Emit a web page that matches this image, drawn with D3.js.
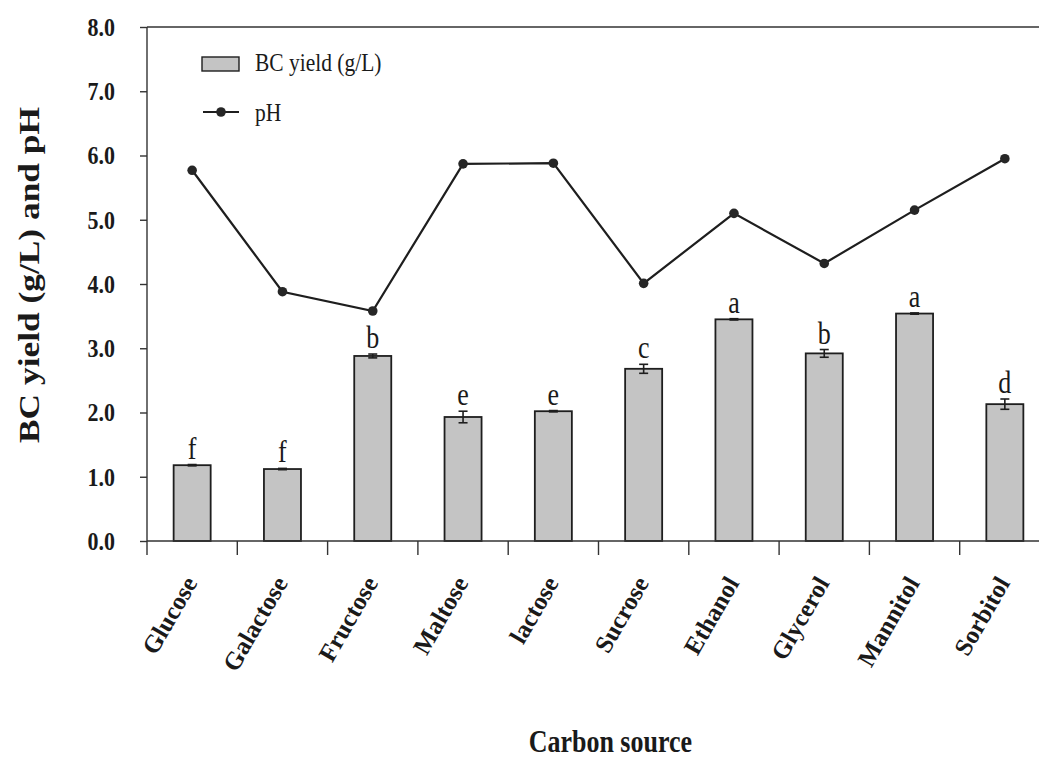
<!DOCTYPE html>
<html>
<head>
<meta charset="utf-8">
<script src="https://cdn.jsdelivr.net/npm/d3@7"></script>
<style>
  html, body { margin: 0; padding: 0; background: #fff; }
  svg { display: block; }
  text { font-family: "Liberation Serif", "Times New Roman", serif; fill: #1a1a1a; }
</style>
</head>
<body>
<svg id="chart" width="1039" height="765"></svg>
<script>
// Carbon sources tested
const categories = ["Glucose", "Galactose", "Fructose", "Maltose", "lactose",
                    "Sucrose", "Ethanol", "Glycerol", "Mannitol", "Sorbitol"];
// Bacterial cellulose yield (g/L) and its standard error
const bcYield = [1.18, 1.12, 2.88, 1.93, 2.02, 2.68, 3.45, 2.92, 3.54, 2.13];
const bcError = [0.01, 0.01, 0.03, 0.09, 0.01, 0.07, 0.01, 0.06, 0.01, 0.08];
// Significance groups (Duncan letters)
const groupLetters = ["f", "f", "b", "e", "e", "c", "a", "b", "a", "d"];
// Final pH of the medium
const phValues = [5.77, 3.88, 3.58, 5.87, 5.88, 4.01, 5.10, 4.32, 5.15, 5.95];
// Axis ticks
const yTicks = [0, 1, 2, 3, 4, 5, 6, 7, 8];

const W = 1039, H = 765;
const left = 147, bandW = 90.3;
const stretch = 1.18; // text in this figure is drawn slightly tall

const svg = d3.select("#chart");

const x = d3.scaleBand()
  .domain(categories)
  .range([left, left + bandW * categories.length])
  .padding(0);

const y = d3.scaleLinear().domain([0, 8]).range([541, 27]);

const barW = x.bandwidth() * 0.41;
const cx = d => x(d) + x.bandwidth() / 2;

// frame: top border
svg.append("line")
  .attr("x1", left).attr("x2", W)
  .attr("y1", y(8)).attr("y2", y(8))
  .attr("stroke", "#333").attr("stroke-width", 1.4);

// bars
const rows = categories.map((c, i) => ({ c, v: bcYield[i], e: bcError[i], g: groupLetters[i], ph: phValues[i] }));

svg.append("g").selectAll("rect")
  .data(rows).join("rect")
  .attr("x", d => cx(d.c) - barW / 2)
  .attr("y", d => y(d.v))
  .attr("width", barW)
  .attr("height", d => y(0) - y(d.v))
  .attr("fill", "#c4c4c4")
  .attr("stroke", "#1e1e1e")
  .attr("stroke-width", 1.8);

// error bars
const eg = svg.append("g").attr("stroke", "#1e1e1e").attr("stroke-width", 1.6);
rows.forEach(d => {
  const xc = cx(d.c);
  eg.append("line").attr("x1", xc).attr("x2", xc).attr("y1", y(d.v + d.e)).attr("y2", y(d.v - d.e));
  eg.append("line").attr("x1", xc - 4.5).attr("x2", xc + 4.5).attr("y1", y(d.v + d.e)).attr("y2", y(d.v + d.e));
  eg.append("line").attr("x1", xc - 4.5).attr("x2", xc + 4.5).attr("y1", y(d.v - d.e)).attr("y2", y(d.v - d.e));
});

// group letters
svg.append("g").selectAll("text")
  .data(rows).join("text")
  .attr("transform", d => `translate(${cx(d.c)},${y(d.v + d.e) - 6}) scale(1,${stretch})`)
  .attr("text-anchor", "middle")
  .attr("font-size", 26)
  .text(d => d.g);

// pH line
const line = d3.line().x(d => cx(d.c)).y(d => y(d.ph));
svg.append("path")
  .datum(rows)
  .attr("d", line)
  .attr("fill", "none")
  .attr("stroke", "#1e1e1e")
  .attr("stroke-width", 2.2);

svg.append("g").selectAll("circle")
  .data(rows).join("circle")
  .attr("cx", d => cx(d.c))
  .attr("cy", d => y(d.ph))
  .attr("r", 4.8)
  .attr("fill", "#262626");

// y axis
const yAxis = svg.append("g")
  .attr("transform", `translate(${left},0)`)
  .call(d3.axisLeft(y).tickValues(yTicks).tickFormat(d3.format(".1f")).tickSize(7).tickPadding(25));
yAxis.selectAll("path, line").attr("stroke", "#333").attr("stroke-width", 1.4);
yAxis.select(".domain").attr("d", `M0,${y(0)}V${y(8)}`);
yAxis.selectAll("text")
  .attr("font-size", 22)
  .attr("font-weight", "bold")
  .attr("font-family", "Liberation Serif, Times New Roman, serif")
  .attr("fill", "#1a1a1a")
  .attr("transform", `scale(1,${stretch})`);

// x axis
const xg = svg.append("g");
xg.append("line")
  .attr("x1", left).attr("x2", W)
  .attr("y1", y(0)).attr("y2", y(0))
  .attr("stroke", "#333").attr("stroke-width", 1.4);
const bounds = categories.map(c => x(c)).concat([x.range()[1]]);
xg.selectAll("line.tick")
  .data(bounds).join("line")
  .attr("class", "tick")
  .attr("x1", d => d).attr("x2", d => d)
  .attr("y1", y(0)).attr("y2", y(0) + 14)
  .attr("stroke", "#333").attr("stroke-width", 1.4);

xg.selectAll("text")
  .data(categories).join("text")
  .attr("transform", d => `translate(${cx(d) + 6},${y(0) + 42}) rotate(-60)`)
  .attr("text-anchor", "end")
  .attr("font-size", 25)
  .attr("font-weight", "bold")
  .text(d => d);

// axis titles
svg.append("text")
  .attr("transform", `translate(${cx(categories[4]) + 57},752) scale(1,${stretch})`)
  .attr("text-anchor", "middle")
  .attr("font-size", 26)
  .attr("font-weight", "bold")
  .text("Carbon source");

svg.append("text")
  .attr("transform", `translate(39,275) rotate(-90)`)
  .attr("text-anchor", "middle")
  .attr("font-size", 30)
  .attr("font-weight", "bold")
  .attr("textLength", 336)
  .attr("lengthAdjust", "spacingAndGlyphs")
  .text("BC yield (g/L) and pH");

// legend
const lg = svg.append("g");
lg.append("rect")
  .attr("x", 202).attr("y", 57).attr("width", 37).attr("height", 14)
  .attr("fill", "#c4c4c4").attr("stroke", "#1e1e1e").attr("stroke-width", 1.4);
lg.append("text")
  .attr("transform", `translate(255,71) scale(1,${stretch})`)
  .attr("font-size", 21.5)
  .text("BC yield (g/L)");
lg.append("line")
  .attr("x1", 203).attr("x2", 239).attr("y1", 112).attr("y2", 112)
  .attr("stroke", "#1e1e1e").attr("stroke-width", 2.2);
lg.append("circle").attr("cx", 221).attr("cy", 112).attr("r", 4.8).attr("fill", "#262626");
lg.append("text")
  .attr("transform", `translate(255,121) scale(1,${stretch})`)
  .attr("font-size", 21.5)
  .text("pH");
</script>
</body>
</html>
